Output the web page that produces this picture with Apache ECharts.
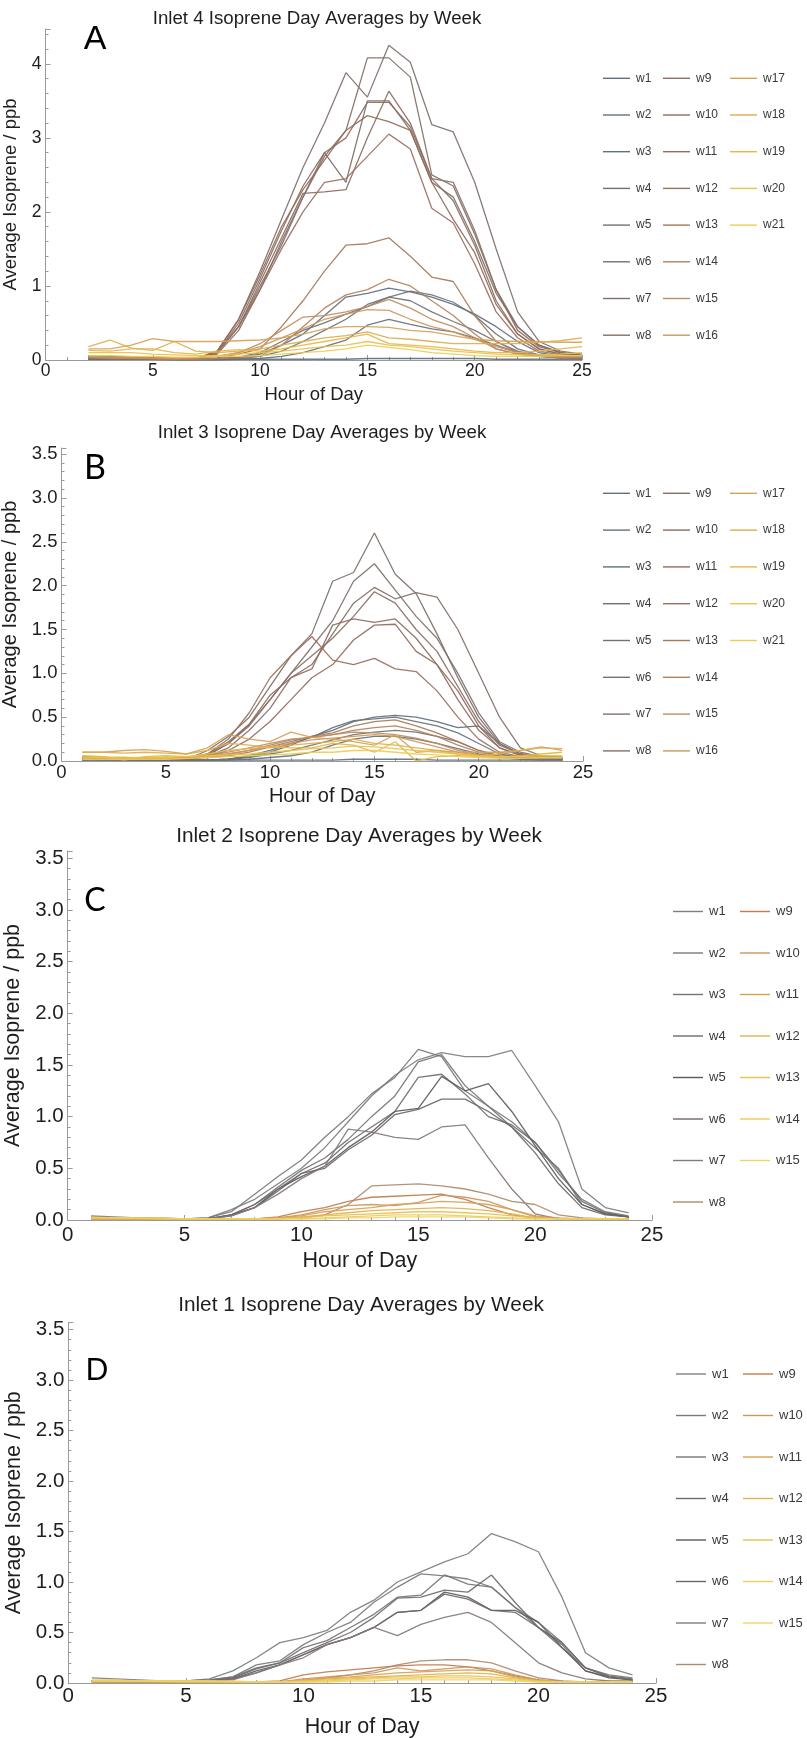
<!DOCTYPE html>
<html>
<head>
<meta charset="utf-8">
<script src="https://cdn.jsdelivr.net/npm/echarts@6/dist/echarts.min.js"></script>
<style>
  html, body { margin: 0; padding: 0; background: #ffffff; }
  #chart { width: 807px; height: 1738px; }
</style>
</head>
<body>
<div id="chart"></div>
<script>
// ---- hours of day ----
const hoursInlet4 = [2,3,4,5,6,7,8,9,10,11,12,13,14,15,16,17,18,19,20,21,22,23,24,25];
const hoursOther  = [1,2,3,4,5,6,7,8,9,10,11,12,13,14,15,16,17,18,19,20,21,22,23,24];

// ---- tick labels ----
const xTicks = [0, 5, 10, 15, 20, 25];
const yTicksInlet4 = [0, 1, 2, 3, 4];
const yTicksOther = [0.0, 0.5, 1.0, 1.5, 2.0, 2.5, 3.0, 3.5];

// ---- week names ----
const weeks21 = ['w1','w2','w3','w4','w5','w6','w7','w8','w9','w10','w11','w12','w13','w14','w15','w16','w17','w18','w19','w20','w21'];
const weeks15 = ['w1','w2','w3','w4','w5','w6','w7','w8','w9','w10','w11','w12','w13','w14','w15'];

// ---- Inlet 4 weekly day averages (ppb), hours 2..25 ----
const inlet4_w1  = [0.01,0.01,0.01,0.01,0.01,0.01,0.01,0.01,0.01,0.01,0.01,0.01,0.01,0.02,0.02,0.02,0.02,0.02,0.02,0.01,0.01,0.01,0.01,0.01];
const inlet4_w2  = [0.01,0.01,0.01,0.01,0.00,0.00,0.00,0.01,0.02,0.05,0.10,0.18,0.27,0.47,0.55,0.48,0.42,0.38,0.30,0.20,0.10,0.05,0.03,0.02];
const inlet4_w3  = [0.02,0.02,0.01,0.01,0.01,0.01,0.01,0.03,0.08,0.20,0.35,0.60,0.85,0.90,0.97,0.92,0.85,0.75,0.62,0.45,0.25,0.10,0.05,0.03];
const inlet4_w4  = [0.02,0.01,0.01,0.01,0.01,0.01,0.01,0.02,0.05,0.12,0.25,0.40,0.55,0.75,0.85,0.93,0.88,0.78,0.60,0.35,0.15,0.07,0.04,0.03];
const inlet4_w5  = [0.03,0.02,0.02,0.01,0.01,0.01,0.02,0.04,0.10,0.25,0.40,0.50,0.62,0.72,0.85,0.80,0.65,0.52,0.40,0.25,0.12,0.06,0.04,0.03];
const inlet4_w6  = [0.05,0.04,0.03,0.02,0.01,0.02,0.10,0.45,1.00,1.55,2.20,2.80,2.40,3.50,3.50,3.10,2.40,2.20,1.60,0.90,0.45,0.20,0.10,0.06];
const inlet4_w7  = [0.05,0.04,0.03,0.02,0.01,0.02,0.12,0.55,1.20,1.90,2.60,3.20,3.88,3.55,4.25,4.02,3.18,3.08,2.40,1.50,0.65,0.25,0.12,0.08];
const inlet4_w8  = [0.04,0.03,0.02,0.02,0.01,0.01,0.08,0.40,0.95,1.60,2.20,2.75,3.10,4.08,4.08,3.82,2.50,2.35,1.70,0.95,0.45,0.20,0.10,0.06];
const inlet4_w9  = [0.05,0.04,0.03,0.02,0.01,0.02,0.10,0.45,1.05,1.65,2.25,2.27,2.30,3.00,3.63,3.20,2.45,2.40,1.75,0.95,0.40,0.18,0.10,0.06];
const inlet4_w10 = [0.06,0.05,0.04,0.03,0.02,0.02,0.10,0.50,1.10,1.75,2.35,2.80,3.00,3.48,3.48,3.15,2.45,2.15,1.55,0.80,0.35,0.15,0.08,0.05];
const inlet4_w11 = [0.06,0.05,0.04,0.03,0.02,0.02,0.12,0.55,1.15,1.80,2.30,2.70,3.10,3.30,3.22,3.10,2.40,1.90,1.45,0.75,0.35,0.15,0.08,0.05];
const inlet4_w12 = [0.05,0.04,0.03,0.02,0.01,0.02,0.10,0.45,0.95,1.50,2.00,2.40,2.45,2.75,3.05,2.85,2.05,1.85,1.30,0.65,0.30,0.12,0.07,0.05];
const inlet4_w13 = [0.04,0.03,0.03,0.02,0.02,0.02,0.03,0.08,0.15,0.45,0.80,1.20,1.55,1.57,1.65,1.40,1.12,1.06,0.60,0.25,0.10,0.05,0.03,0.03];
const inlet4_w14 = [0.03,0.02,0.02,0.02,0.01,0.01,0.02,0.03,0.05,0.20,0.45,0.70,0.88,0.95,1.09,1.00,0.80,0.60,0.35,0.15,0.08,0.05,0.03,0.03];
const inlet4_w15 = [0.04,0.03,0.03,0.02,0.02,0.03,0.05,0.10,0.22,0.40,0.58,0.60,0.65,0.72,0.82,0.70,0.55,0.45,0.30,0.15,0.08,0.05,0.04,0.04];
const inlet4_w16 = [0.05,0.04,0.03,0.03,0.02,0.03,0.05,0.10,0.18,0.30,0.42,0.55,0.62,0.68,0.67,0.55,0.45,0.38,0.28,0.18,0.10,0.07,0.05,0.05];
const inlet4_w17 = [0.15,0.15,0.20,0.29,0.25,0.25,0.25,0.26,0.27,0.30,0.35,0.42,0.45,0.45,0.44,0.40,0.38,0.33,0.28,0.26,0.25,0.25,0.24,0.24];
const inlet4_w18 = [0.18,0.27,0.16,0.13,0.25,0.12,0.10,0.12,0.15,0.20,0.25,0.30,0.33,0.38,0.30,0.28,0.25,0.22,0.22,0.22,0.22,0.24,0.26,0.30];
const inlet4_w19 = [0.13,0.12,0.15,0.15,0.10,0.08,0.12,0.14,0.12,0.15,0.20,0.25,0.30,0.35,0.22,0.20,0.18,0.15,0.12,0.10,0.10,0.12,0.15,0.18];
const inlet4_w20 = [0.10,0.10,0.10,0.08,0.07,0.06,0.06,0.08,0.10,0.12,0.15,0.18,0.20,0.25,0.20,0.18,0.15,0.12,0.10,0.08,0.07,0.07,0.08,0.10];
const inlet4_w21 = [0.06,0.06,0.05,0.05,0.04,0.04,0.05,0.05,0.06,0.08,0.10,0.12,0.15,0.20,0.17,0.14,0.10,0.08,0.06,0.05,0.05,0.05,0.06,0.06];

// ---- Inlet 3 weekly day averages (ppb), hours 1..24 ----
const inlet3_w1  = [0.01,0.01,0.01,0.01,0.01,0.01,0.01,0.01,0.01,0.01,0.01,0.01,0.01,0.02,0.02,0.02,0.02,0.01,0.01,0.01,0.01,0.01,0.01,0.01];
const inlet3_w2  = [0.01,0.01,0.01,0.01,0.01,0.01,0.01,0.01,0.02,0.04,0.06,0.10,0.18,0.25,0.28,0.28,0.25,0.20,0.14,0.08,0.04,0.02,0.01,0.01];
const inlet3_w3  = [0.02,0.02,0.02,0.02,0.01,0.01,0.01,0.02,0.05,0.10,0.18,0.28,0.35,0.45,0.50,0.52,0.50,0.45,0.38,0.40,0.20,0.08,0.04,0.03];
const inlet3_w4  = [0.02,0.02,0.01,0.01,0.01,0.01,0.01,0.02,0.06,0.12,0.20,0.27,0.38,0.46,0.48,0.50,0.45,0.40,0.32,0.20,0.08,0.04,0.03,0.02];
const inlet3_w5  = [0.02,0.02,0.02,0.01,0.01,0.01,0.01,0.02,0.04,0.08,0.12,0.18,0.24,0.30,0.33,0.35,0.33,0.28,0.22,0.12,0.05,0.03,0.02,0.02];
const inlet3_w6  = [0.03,0.03,0.02,0.02,0.02,0.02,0.12,0.28,0.50,0.85,1.20,1.45,2.05,2.15,2.60,2.13,1.91,1.45,0.95,0.50,0.20,0.08,0.04,0.03];
const inlet3_w7  = [0.03,0.03,0.02,0.02,0.02,0.02,0.08,0.22,0.42,0.70,1.00,1.30,1.60,2.05,2.25,1.95,1.65,1.40,1.00,0.55,0.22,0.10,0.05,0.03];
const inlet3_w8  = [0.03,0.03,0.02,0.02,0.02,0.02,0.05,0.15,0.35,0.60,0.95,1.10,1.45,1.80,1.98,1.85,1.92,1.87,1.50,1.00,0.50,0.15,0.06,0.04];
const inlet3_w9  = [0.04,0.03,0.03,0.02,0.02,0.02,0.06,0.20,0.40,0.70,1.00,1.20,1.40,1.65,1.93,1.80,1.50,1.25,0.85,0.45,0.18,0.08,0.05,0.04];
const inlet3_w10 = [0.04,0.03,0.03,0.02,0.02,0.02,0.07,0.20,0.42,0.75,0.95,1.05,1.55,1.62,1.58,1.62,1.40,1.10,0.70,0.35,0.15,0.07,0.05,0.04];
const inlet3_w11 = [0.03,0.03,0.02,0.02,0.02,0.02,0.05,0.12,0.25,0.45,0.70,0.95,1.10,1.38,1.55,1.56,1.25,1.10,0.80,0.40,0.15,0.06,0.04,0.03];
const inlet3_w12 = [0.04,0.03,0.03,0.02,0.02,0.02,0.08,0.25,0.55,0.95,1.20,1.42,1.15,1.10,1.17,1.05,1.02,0.80,0.50,0.25,0.10,0.05,0.04,0.04];
const inlet3_w13 = [0.04,0.04,0.03,0.03,0.03,0.03,0.04,0.06,0.10,0.16,0.22,0.28,0.32,0.40,0.45,0.47,0.40,0.32,0.22,0.12,0.06,0.04,0.04,0.04];
const inlet3_w14 = [0.05,0.04,0.04,0.03,0.03,0.03,0.05,0.08,0.12,0.18,0.24,0.27,0.30,0.35,0.38,0.40,0.35,0.28,0.18,0.10,0.05,0.04,0.04,0.04];
const inlet3_w15 = [0.04,0.04,0.03,0.03,0.03,0.04,0.06,0.10,0.15,0.20,0.25,0.27,0.30,0.33,0.32,0.30,0.26,0.20,0.12,0.07,0.05,0.04,0.04,0.04];
const inlet3_w16 = [0.03,0.03,0.03,0.03,0.03,0.03,0.05,0.08,0.12,0.16,0.20,0.24,0.26,0.28,0.30,0.28,0.22,0.16,0.10,0.06,0.04,0.04,0.03,0.03];
const inlet3_w17 = [0.10,0.10,0.12,0.13,0.11,0.08,0.15,0.30,0.25,0.22,0.33,0.27,0.25,0.22,0.18,0.30,0.10,0.12,0.10,0.10,0.10,0.12,0.16,0.12];
const inlet3_w18 = [0.10,0.10,0.09,0.10,0.09,0.08,0.12,0.20,0.18,0.15,0.18,0.20,0.22,0.25,0.20,0.18,0.15,0.12,0.08,0.06,0.08,0.12,0.15,0.14];
const inlet3_w19 = [0.06,0.05,0.01,0.05,0.06,0.05,0.08,0.12,0.14,0.16,0.15,0.15,0.20,0.18,0.10,0.22,0.00,0.05,0.06,0.05,0.04,0.06,0.08,0.10];
const inlet3_w20 = [0.04,0.04,0.04,0.04,0.04,0.05,0.06,0.07,0.08,0.10,0.12,0.14,0.15,0.17,0.16,0.14,0.12,0.10,0.08,0.06,0.05,0.05,0.06,0.06];
const inlet3_w21 = [0.02,0.02,0.02,0.02,0.02,0.03,0.04,0.05,0.06,0.07,0.08,0.10,0.10,0.12,0.12,0.10,0.08,0.07,0.05,0.04,0.03,0.03,0.04,0.04];

// ---- Inlet 2 weekly day averages (ppb), hours 1..24 ----
const inlet2_w1  = [0.04,0.03,0.02,0.02,0.01,0.02,0.10,0.20,0.35,0.50,0.70,0.95,1.20,1.40,1.55,1.62,1.58,1.58,1.64,1.30,0.95,0.30,0.12,0.07];
const inlet2_w2  = [0.03,0.02,0.02,0.01,0.01,0.02,0.08,0.25,0.42,0.58,0.80,1.00,1.22,1.38,1.65,1.58,1.25,1.10,0.95,0.75,0.45,0.20,0.08,0.04];
const inlet2_w3  = [0.03,0.02,0.02,0.01,0.01,0.01,0.05,0.15,0.32,0.48,0.60,0.78,1.00,1.20,1.53,1.60,1.30,1.10,0.90,0.70,0.50,0.15,0.06,0.03];
const inlet2_w4  = [0.02,0.02,0.01,0.01,0.01,0.01,0.04,0.12,0.28,0.45,0.55,0.75,0.90,1.05,1.38,1.41,1.22,1.00,0.92,0.75,0.48,0.18,0.07,0.03];
const inlet2_w5  = [0.02,0.02,0.01,0.01,0.01,0.01,0.05,0.12,0.30,0.42,0.52,0.70,0.85,1.05,1.08,1.39,1.25,1.32,1.05,0.72,0.40,0.15,0.06,0.03];
const inlet2_w6  = [0.03,0.02,0.02,0.01,0.01,0.01,0.05,0.15,0.30,0.45,0.50,0.68,0.82,1.02,1.07,1.17,1.17,1.05,0.90,0.65,0.35,0.12,0.05,0.03];
const inlet2_w7  = [0.02,0.02,0.01,0.01,0.01,0.01,0.04,0.12,0.25,0.40,0.52,0.88,0.85,0.80,0.78,0.90,0.92,0.60,0.30,0.06,0.01,0.01,0.01,0.01];
const inlet2_w8  = [0.01,0.01,0.01,0.01,0.01,0.01,0.01,0.01,0.01,0.02,0.05,0.15,0.33,0.34,0.35,0.33,0.30,0.25,0.18,0.15,0.05,0.02,0.01,0.01];
const inlet2_w9  = [0.01,0.01,0.01,0.01,0.01,0.01,0.01,0.01,0.03,0.08,0.12,0.18,0.22,0.23,0.24,0.25,0.20,0.12,0.05,0.02,0.01,0.01,0.01,0.01];
const inlet2_w10 = [0.01,0.01,0.01,0.01,0.01,0.01,0.01,0.01,0.02,0.05,0.10,0.14,0.15,0.14,0.17,0.24,0.22,0.18,0.10,0.04,0.02,0.01,0.01,0.01];
const inlet2_w11 = [0.01,0.01,0.01,0.01,0.01,0.01,0.01,0.01,0.02,0.04,0.08,0.10,0.12,0.15,0.16,0.18,0.17,0.15,0.10,0.03,0.01,0.01,0.01,0.01];
const inlet2_w12 = [0.01,0.01,0.01,0.01,0.01,0.01,0.01,0.01,0.01,0.03,0.05,0.07,0.09,0.10,0.11,0.12,0.11,0.09,0.06,0.02,0.01,0.01,0.01,0.01];
const inlet2_w13 = [0.02,0.02,0.01,0.01,0.01,0.01,0.01,0.01,0.01,0.02,0.04,0.05,0.06,0.07,0.08,0.08,0.07,0.06,0.04,0.02,0.01,0.01,0.01,0.01];
const inlet2_w14 = [0.02,0.02,0.02,0.01,0.01,0.01,0.01,0.01,0.01,0.01,0.02,0.03,0.04,0.05,0.05,0.05,0.04,0.03,0.02,0.01,0.01,0.01,0.01,0.01];
const inlet2_w15 = [0.03,0.02,0.02,0.02,0.01,0.01,0.01,0.01,0.01,0.01,0.01,0.02,0.02,0.03,0.03,0.03,0.03,0.02,0.01,0.01,0.01,0.01,0.01,0.01];

// ---- Inlet 1 weekly day averages (ppb), hours 1..24 ----
const inlet1_w1  = [0.05,0.04,0.03,0.02,0.02,0.04,0.12,0.25,0.40,0.45,0.52,0.70,0.82,1.00,1.10,1.20,1.28,1.48,1.40,1.30,0.85,0.30,0.15,0.08];
const inlet1_w2  = [0.02,0.02,0.02,0.02,0.02,0.03,0.06,0.18,0.22,0.38,0.50,0.60,0.80,0.95,1.08,1.06,1.03,0.95,0.75,0.55,0.35,0.15,0.08,0.05];
const inlet1_w3  = [0.02,0.02,0.02,0.02,0.02,0.03,0.06,0.15,0.20,0.35,0.42,0.55,0.68,0.85,0.87,1.07,0.98,0.95,0.75,0.60,0.40,0.15,0.07,0.04];
const inlet1_w4  = [0.02,0.02,0.02,0.02,0.02,0.02,0.05,0.14,0.20,0.30,0.40,0.50,0.65,0.84,0.85,0.92,0.90,1.07,0.80,0.55,0.38,0.12,0.06,0.03];
const inlet1_w5  = [0.02,0.02,0.02,0.02,0.02,0.02,0.04,0.12,0.18,0.28,0.38,0.45,0.55,0.70,0.72,0.90,0.85,0.72,0.72,0.60,0.35,0.12,0.05,0.03];
const inlet1_w6  = [0.02,0.02,0.02,0.02,0.02,0.02,0.04,0.10,0.18,0.28,0.38,0.45,0.55,0.70,0.72,0.88,0.83,0.72,0.70,0.55,0.40,0.15,0.06,0.03];
const inlet1_w7  = [0.02,0.02,0.02,0.02,0.02,0.02,0.03,0.10,0.18,0.25,0.38,0.45,0.55,0.47,0.58,0.65,0.70,0.60,0.40,0.20,0.10,0.04,0.02,0.02];
const inlet1_w8  = [0.01,0.01,0.01,0.01,0.01,0.01,0.01,0.01,0.01,0.02,0.05,0.08,0.12,0.18,0.22,0.23,0.23,0.20,0.12,0.05,0.02,0.01,0.01,0.01];
const inlet1_w9  = [0.01,0.01,0.01,0.01,0.01,0.01,0.01,0.01,0.02,0.08,0.11,0.13,0.15,0.17,0.18,0.18,0.16,0.12,0.07,0.03,0.01,0.01,0.01,0.01];
const inlet1_w10 = [0.01,0.01,0.01,0.01,0.01,0.01,0.01,0.01,0.01,0.04,0.06,0.08,0.10,0.15,0.12,0.14,0.16,0.14,0.08,0.03,0.01,0.01,0.01,0.01];
const inlet1_w11 = [0.01,0.01,0.01,0.01,0.01,0.01,0.01,0.01,0.01,0.03,0.05,0.06,0.08,0.10,0.11,0.12,0.13,0.12,0.06,0.02,0.01,0.01,0.01,0.01];
const inlet1_w12 = [0.02,0.02,0.02,0.01,0.01,0.01,0.01,0.01,0.01,0.02,0.04,0.05,0.06,0.07,0.08,0.09,0.10,0.09,0.05,0.02,0.01,0.01,0.01,0.01];
const inlet1_w13 = [0.02,0.02,0.02,0.02,0.01,0.01,0.01,0.01,0.01,0.02,0.03,0.04,0.05,0.06,0.06,0.07,0.07,0.06,0.04,0.02,0.01,0.01,0.01,0.01];
const inlet1_w14 = [0.03,0.03,0.02,0.02,0.02,0.02,0.01,0.01,0.01,0.01,0.02,0.03,0.04,0.04,0.05,0.05,0.05,0.04,0.03,0.01,0.01,0.01,0.01,0.01];
const inlet1_w15 = [0.02,0.02,0.02,0.02,0.02,0.02,0.02,0.01,0.01,0.01,0.01,0.02,0.02,0.03,0.03,0.03,0.03,0.03,0.02,0.01,0.01,0.01,0.01,0.01];

const inlet4Weeks = [inlet4_w1,inlet4_w2,inlet4_w3,inlet4_w4,inlet4_w5,inlet4_w6,inlet4_w7,inlet4_w8,inlet4_w9,inlet4_w10,inlet4_w11,inlet4_w12,inlet4_w13,inlet4_w14,inlet4_w15,inlet4_w16,inlet4_w17,inlet4_w18,inlet4_w19,inlet4_w20,inlet4_w21];
const inlet3Weeks = [inlet3_w1,inlet3_w2,inlet3_w3,inlet3_w4,inlet3_w5,inlet3_w6,inlet3_w7,inlet3_w8,inlet3_w9,inlet3_w10,inlet3_w11,inlet3_w12,inlet3_w13,inlet3_w14,inlet3_w15,inlet3_w16,inlet3_w17,inlet3_w18,inlet3_w19,inlet3_w20,inlet3_w21];
const inlet2Weeks = [inlet2_w1,inlet2_w2,inlet2_w3,inlet2_w4,inlet2_w5,inlet2_w6,inlet2_w7,inlet2_w8,inlet2_w9,inlet2_w10,inlet2_w11,inlet2_w12,inlet2_w13,inlet2_w14,inlet2_w15];
const inlet1Weeks = [inlet1_w1,inlet1_w2,inlet1_w3,inlet1_w4,inlet1_w5,inlet1_w6,inlet1_w7,inlet1_w8,inlet1_w9,inlet1_w10,inlet1_w11,inlet1_w12,inlet1_w13,inlet1_w14,inlet1_w15];

// ---- line colours: slate grey -> taupe -> tan -> yellow ----
const colors21 = ['#5f7080','#64717e','#5d6f82','#6a7179','#707275','#7b7069','#80706a','#856f67','#8a6e63','#8f6c5e','#946b5c','#9a6f5e','#a87858','#b5815a','#c08c5e','#cb975d','#d6a256','#deac4d','#e4b748','#e9c24a','#edcd55'];
const colors15 = ['#7a7f84','#77797c','#747474','#6c6c6c','#5a5a5a','#706660','#857a7a','#b08a6c','#c07c4c','#cc9560','#d9a050','#e2b24c','#e8c050','#edcb5c','#f0d468'];

const FONT = '"Liberation Sans", Arial, sans-serif';
const AXIS_GREY = '#9a9a9a';
const TEXT = '#1e1e1e';

// panel layout (pixels)
const panels = [
  { key: 'A', title: 'Inlet 4 Isoprene Day Averages by Week', hours: hoursInlet4, weeks: inlet4Weeks, names: weeks21, colors: colors21,
    yTicks: yTicksInlet4, yMax: 4.47, yStep: 1, yDigits: 0,
    grid: { left: 45.5, top: 29, width: 536.5, height: 331 },
    tickFont: 17.5, nameFont: 18.5, nameGapY: 18, nameGapX: 25, labelMargin: 2.5,
    titlePos: [317, 19], titleFont: 18.7, letterPos: [95, 40], letterFont: 34, letterFamily: FONT,
    legendCols: [[0,8],[8,16],[16,21]], legendX: [603, 663, 730], legendTop: 71.3, legendGap: 36.7, legendLine: 27, legendFont: 12 },
  { key: 'B', title: 'Inlet 3 Isoprene Day Averages by Week', hours: hoursOther, weeks: inlet3Weeks, names: weeks21, colors: colors21,
    yTicks: yTicksOther, yMax: 3.57, yStep: 0.5, yDigits: 1,
    grid: { left: 61.5, top: 448, width: 521.5, height: 313 },
    tickFont: 18.5, nameFont: 20, nameGapY: 33.5, nameGapX: 25, labelMargin: 2.5,
    titlePos: [322, 433], titleFont: 18.7, letterPos: [95, 468], letterFont: 34, letterFamily: 'Lato, "Open Sans", sans-serif',
    legendCols: [[0,8],[8,16],[16,21]], legendX: [603, 663, 730], legendTop: 486.3, legendGap: 36.8, legendLine: 27, legendFont: 12 },
  { key: 'C', title: 'Inlet 2 Isoprene Day Averages by Week', hours: hoursOther, weeks: inlet2Weeks, names: weeks15, colors: colors15,
    yTicks: yTicksOther, yMax: 3.57, yStep: 0.5, yDigits: 1,
    grid: { left: 67.7, top: 851, width: 584.3, height: 369 },
    tickFont: 20.5, nameFont: 21.5, nameGapY: 36, nameGapX: 30, labelMargin: 5,
    titlePos: [359, 836], titleFont: 20.8, letterPos: [95, 901], letterFont: 32, letterFamily: 'Lato, "Open Sans", sans-serif',
    legendCols: [[0,8],[8,15]], legendX: [673, 740], legendTop: 904.5, legendGap: 41.5, legendLine: 30, legendFont: 13 },
  { key: 'D', title: 'Inlet 1 Isoprene Day Averages by Week', hours: hoursOther, weeks: inlet1Weeks, names: weeks15, colors: colors15,
    yTicks: yTicksOther, yMax: 3.57, yStep: 0.5, yDigits: 1,
    grid: { left: 68.3, top: 1322.5, width: 587.7, height: 360.5 },
    tickFont: 20.5, nameFont: 21.5, nameGapY: 37.5, nameGapX: 33, labelMargin: 3,
    titlePos: [361, 1305], titleFont: 20.8, letterPos: [97, 1370], letterFont: 30, letterFamily: 'Lato, "Open Sans", sans-serif',
    legendCols: [[0,8],[8,15]], legendX: [676, 743], legendTop: 1367, legendGap: 41.5, legendLine: 30, legendFont: 13 }
];

const option = {
  animation: false,
  backgroundColor: '#ffffff',
  grid: [], xAxis: [], yAxis: [], series: [], legend: [], graphic: []
};

const isTick = (ticks, v) => ticks.some(t => Math.abs(t - v) < 1e-6);
const LEGEND_ROW = 14;

panels.forEach((p, i) => {
  option.grid.push(Object.assign({ containLabel: false, outerBoundsMode: 'none' }, p.grid));

  option.xAxis.push({
    gridIndex: i, type: 'value', min: 0, max: 25, interval: 5,
    name: 'Hour of Day', nameLocation: 'middle', nameGap: p.nameGapX,
    nameTextStyle: { fontFamily: FONT, fontSize: p.nameFont, color: TEXT },
    axisLine: { show: true, onZero: false, lineStyle: { color: AXIS_GREY, width: 1 } },
    axisTick: { show: true, inside: true, length: 5, lineStyle: { color: AXIS_GREY } },
    minorTick: { show: true, splitNumber: 5, length: 3, lineStyle: { color: AXIS_GREY } },
    splitLine: { show: false },
    axisLabel: { margin: p.labelMargin, fontFamily: FONT, fontSize: p.tickFont, color: TEXT,
      formatter: v => isTick(xTicks, v) ? String(v) : '' }
  });

  option.yAxis.push({
    gridIndex: i, type: 'value', min: 0, max: p.yMax, interval: p.yStep,
    name: 'Average Isoprene / ppb', nameLocation: 'middle', nameGap: p.nameGapY,
    nameTextStyle: { fontFamily: FONT, fontSize: p.nameFont, color: TEXT },
    axisLine: { show: true, onZero: false, lineStyle: { color: AXIS_GREY, width: 1 } },
    axisTick: { show: true, inside: true, length: 5, lineStyle: { color: AXIS_GREY } },
    minorTick: { show: true, splitNumber: 5, length: 3, lineStyle: { color: AXIS_GREY } },
    splitLine: { show: false },
    axisLabel: { margin: 4, fontFamily: FONT, fontSize: p.tickFont, color: TEXT, showMaxLabel: false,
      formatter: v => isTick(p.yTicks, v) ? v.toFixed(p.yDigits) : '' }
  });

  p.weeks.forEach((vals, w) => {
    option.series.push({
      type: 'line', name: p.key + ':' + p.names[w],
      xAxisIndex: i, yAxisIndex: i,
      data: p.hours.map((h, k) => [h, vals[k]]),
      symbol: 'none', silent: true,
      lineStyle: { color: p.colors[w], width: 1.3, opacity: 0.92 },
      itemStyle: { color: p.colors[w] },
      z: 2
    });
  });

  // legend columns: short line swatch + week label
  p.legendCols.forEach((range, c) => {
    option.legend.push({
      orient: 'vertical', left: p.legendX[c], top: p.legendTop, padding: 0,
      icon: 'rect', itemWidth: p.legendLine, itemHeight: 1.4, itemGap: p.legendGap - LEGEND_ROW,
      selectedMode: false,
      data: p.names.slice(range[0], range[1]).map(n => p.key + ':' + n),
      formatter: name => name.split(':')[1],
      textStyle: { fontFamily: FONT, fontSize: p.legendFont, lineHeight: LEGEND_ROW, color: '#3a3a3a', padding: [0, 0, 0, 1] }
    });
  });

  option.graphic.push({
    type: 'text', x: p.titlePos[0], y: p.titlePos[1],
    style: { text: p.title, font: `${p.titleFont}px ${FONT}`, fill: TEXT, textAlign: 'center', textVerticalAlign: 'middle', verticalAlign: 'middle' }
  });
  option.graphic.push({
    type: 'text', x: p.letterPos[0], y: p.letterPos[1],
    style: { text: p.key, font: `${p.letterFont}px ${p.letterFamily}`, fill: '#000000', textAlign: 'center', textVerticalAlign: 'middle', verticalAlign: 'middle' }
  });
});

const chart = echarts.init(document.getElementById('chart'), null, { renderer: 'canvas', width: 807, height: 1738 });
chart.setOption(option);
</script>
</body>
</html>
